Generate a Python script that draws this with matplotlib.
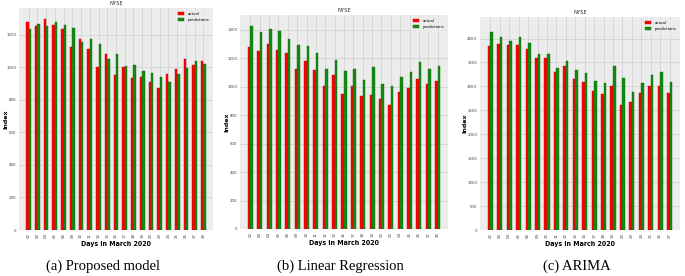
import matplotlib
matplotlib.use("Agg")
import matplotlib.pyplot as plt
import numpy as np

days_ab = ["02", "03", "04", "05", "06", "09", "10", "11", "12", "13", "16",
           "17", "18", "19", "20", "23", "24", "25", "26", "27", "30"]
days_c = ["02", "03", "04", "05", "06", "09", "10", "11", "12", "13", "16",
          "17", "18", "19", "20", "23", "24", "25", "26", "27"]

actual_ab = [1280, 1252, 1299, 1258, 1233, 1126, 1176, 1115, 1002, 1083, 951,
             1001, 934, 942, 909, 872, 962, 993, 1050, 1015, 1041]
pred_a = [1237, 1266, 1253, 1278, 1262, 1239, 1159, 1175, 1142, 1050, 1085,
          1006, 1017, 978, 967, 941, 908, 961, 994, 1039, 1023]
pred_b = [1424, 1382, 1401, 1392, 1331, 1293, 1282, 1235, 1120, 1188, 1111,
          1125, 1043, 1139, 1017, 1003, 1067, 1099, 1170, 1125, 1146]
actual_c = [3844, 3891, 3871, 3871, 3782, 3592, 3592, 3299, 3435, 3163, 3082,
            2898, 2837, 3014, 2612, 2680, 2871, 3014, 3000, 2864]
pred_c = [4129, 4041, 3959, 4034, 3898, 3667, 3680, 3388, 3524, 3340, 3279,
          3116, 3061, 3422, 3177, 2884, 3061, 3245, 3293, 3088]

captions = ["(a) Proposed model", "(b) Linear Regression", "(c) ARIMA"]

fig = plt.figure(figsize=(6.85, 2.76), dpi=100)
W, H = 685, 276

panels = [
    dict(rect=(19, 8, 213, 230), days=days_ab, act=actual_ab, pred=pred_a,
         ylim=1365, yticks=np.arange(0, 1201, 200), ylx=3, cap_x=103),
    dict(rect=(240, 15, 448, 229), days=days_ab, act=actual_ab, pred=pred_b,
         ylim=1502, yticks=np.arange(0, 1401, 200), ylx=224, cap_x=340),
    dict(rect=(480, 17, 680, 230), days=days_c, act=actual_c, pred=pred_c,
         ylim=4450, yticks=np.arange(0, 4001, 500), ylx=462, cap_x=577),
]

for p, cap in zip(panels, captions):
    l, t, r, b = p["rect"]
    ax = fig.add_axes([l / W, 1 - b / H, (r - l) / W, (b - t) / H])
    ax.set_facecolor("#ececec")
    n = len(p["days"])
    x = np.arange(n)
    w = 0.27
    ax.bar(x - w / 2, p["act"], w, color="#ff0000", edgecolor="#cc0000",
           linewidth=0.3, label="actual", zorder=3)
    ax.bar(x + w / 2, p["pred"], w, color="#138a13", edgecolor="#0d6b0d",
           linewidth=0.3, label="predictions", zorder=3)
    ax.set_xlim(-1.1, n + 0.1)
    ax.set_ylim(0, p["ylim"])
    ax.set_xticks(x)
    ax.set_xticklabels(p["days"], fontsize=2.8, rotation=90, color="#444444")
    ax.set_yticks(p["yticks"])
    ax.set_yticklabels([str(v) for v in p["yticks"]], fontsize=2.8, color="#444444")
    ax.tick_params(length=0, pad=2)
    ax.grid(True, color="#d4d4d4", linewidth=0.6, zorder=0)
    for s in ax.spines.values():
        s.set_visible(False)
    ax.set_title("NYSE", fontsize=3.8, pad=2, color="#333333")
    ax.set_xlabel("Days in March 2020", fontsize=5, fontweight="bold",
                  labelpad=2, fontstretch="condensed")
    fig.text(p["ylx"] / W, 1 - ((t + b) / 2) / H, "Index", rotation=90,
             fontsize=4.5, fontweight="bold", ha="left", va="center")
    ax.legend(loc="upper right", fontsize=2.8, frameon=True, facecolor="#ececec",
              edgecolor="#ececec", handlelength=1.6, handleheight=1.0,
              borderaxespad=0.6)
    fig.text(p["cap_x"] / W, 1 - 266 / H, cap, fontsize=10.5,
             family="Liberation Serif", ha="center", va="center")

fig.savefig("out.png", dpi=100, facecolor="white")
